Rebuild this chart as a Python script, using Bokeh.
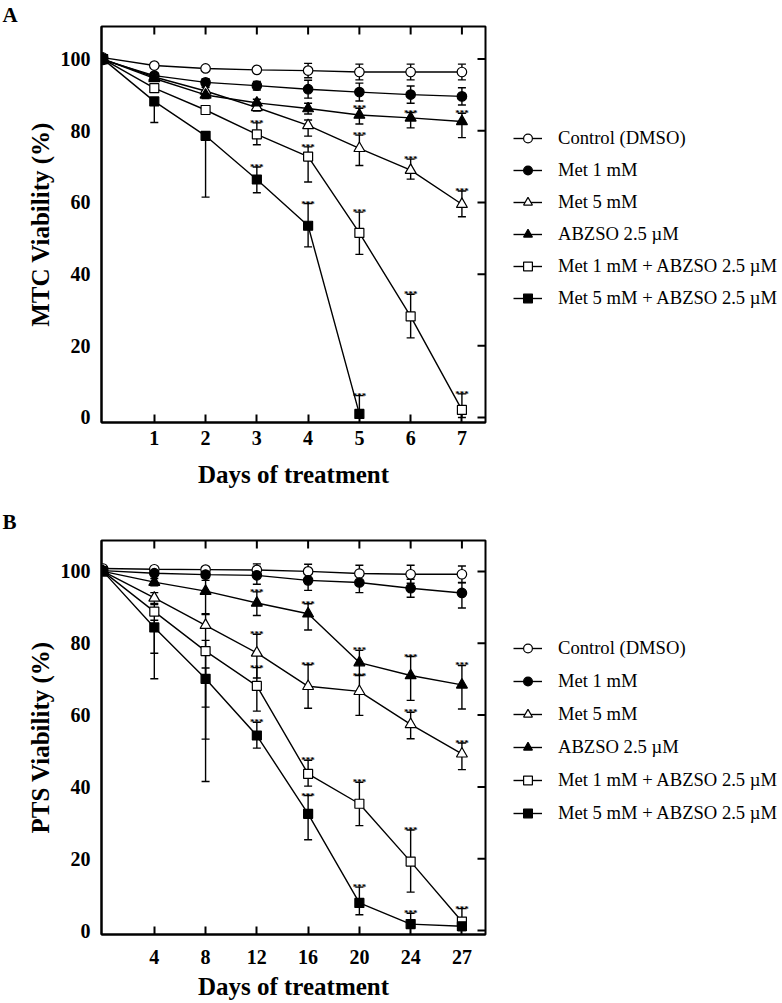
import math
from bokeh.plotting import figure
from bokeh.models import Range1d, FixedTicker, Legend, LegendItem, Title
from bokeh.layouts import column, row
from bokeh.embed import file_html
from bokeh.resources import INLINE
from bokeh.core.properties import value

SERIES = ["Control (DMSO)", "Met 1 mM", "Met 5 mM", "ABZSO 2.5 \u00b5M",
          "Met 1 mM + ABZSO 2.5 \u00b5M", "Met 5 mM + ABZSO 2.5 \u00b5M"]
MARKERS = ["circle", "circle", "triangle", "triangle", "square", "square"]
FILLS = ["white", "black", "white", "black", "white", "black"]
Y_TICKS = [0, 20, 40, 60, 80, 100]

# ---------------- Panel A : MTC, days 0..7 ----------------
a_days = [0, 1, 2, 3, 4, 5, 6, 7]
a_control = [100.4, 98.2, 97.4, 97.0, 96.8, 96.4, 96.4, 96.4]
a_control_hi = [0, 0.4, 0.4, 0.5, 2.0, 2.2, 2.2, 2.2]
a_control_lo = [0, 0.4, 0.4, 0.5, 2.0, 2.2, 2.2, 2.2]
a_control_sig = [0, 0, 0, 0, 0, 0, 0, 0]
a_met1 = [99.8, 95.4, 93.5, 92.6, 91.6, 90.8, 90.1, 89.6]
a_met1_hi = [0, 0.8, 1.0, 1.2, 2.5, 2.5, 2.4, 2.4]
a_met1_lo = [0, 0.8, 1.0, 1.2, 2.5, 2.5, 2.4, 2.4]
a_met1_sig = [0, 0, 0, 0, 0, 0, 0, 0]
a_met5 = [100, 95.0, 91.1, 86.5, 81.5, 75.1, 69.0, 59.5]
a_met5_hi = [0, 0.8, 1.0, 1.0, 1.5, 3.7, 3.1, 3.7]
a_met5_lo = [0, 0.8, 1.0, 1.0, 3.0, 4.8, 2.5, 3.5]
a_met5_sig = [0, 0, 0, 0, 0, 1, 1, 1]
a_abz = [100, 94.6, 90.0, 87.8, 86.2, 84.4, 83.6, 82.6]
a_abz_hi = [0, 0.8, 1.0, 1.0, 1.5, 1.9, 1.5, 2.3]
a_abz_lo = [0, 0.8, 1.0, 1.0, 1.5, 2.5, 2.8, 4.5]
a_abz_sig = [0, 0, 0, 0, 0, 1, 1, 1]
a_m1abz = [100, 91.9, 85.8, 79.0, 72.8, 51.5, 28.2, 2.1]
a_m1abz_hi = [0, 1.0, 1.0, 3.2, 2.7, 5.8, 6.2, 4.5]
a_m1abz_lo = [0, 1.0, 1.0, 2.9, 7.1, 6.0, 6.0, 2.1]
a_m1abz_sig = [0, 0, 0, 1, 1, 1, 1, 1]
a_m5abz = [100, 88.2, 78.6, 66.4, 53.5, 1.0]
a_m5abz_hi = [0, 0, 0, 3.5, 6.2, 5.1]
a_m5abz_lo = [0, 5.9, 17.1, 3.7, 5.9, 0]
a_m5abz_sig = [0, 0, 0, 1, 1, 1]

# ---------------- Panel B : PTS, days 0..27 ----------------
b_days = [0, 4, 8, 12, 16, 20, 24, 27]
b_control = [100.8, 100.6, 100.5, 100.4, 100.0, 99.4, 99.2, 99.2]
b_control_hi = [0, 0.5, 0.8, 1.7, 2.0, 2.3, 2.5, 2.3]
b_control_lo = [0, 0.5, 0.8, 1.7, 2.0, 2.3, 2.5, 2.3]
b_control_sig = [0, 0, 0, 0, 0, 0, 0, 0]
b_met1 = [100.2, 99.5, 99.1, 98.9, 97.5, 96.9, 95.3, 94.0]
b_met1_hi = [0, 0.5, 0.8, 2.5, 2.8, 2.8, 2.5, 2.8]
b_met1_lo = [0, 0.5, 0.8, 2.5, 2.8, 2.8, 2.5, 4.2]
b_met1_sig = [0, 0, 0, 0, 0, 0, 0, 0]
b_met5 = [100, 92.6, 85.0, 77.3, 68.0, 66.6, 57.4, 49.2]
b_met5_hi = [0, 1.5, 3.0, 5.2, 6.0, 4.4, 3.4, 3.0]
b_met5_lo = [0, 1.5, 22.8, 7.0, 6.1, 6.7, 4.0, 4.4]
b_met5_sig = [0, 0, 0, 1, 1, 1, 1, 1]
b_abz = [100, 97.0, 94.5, 91.2, 88.2, 74.6, 71.0, 68.4]
b_abz_hi = [0, 1.0, 3.0, 3.1, 2.8, 3.4, 5.3, 5.4]
b_abz_lo = [0, 1.0, 6.3, 3.5, 4.5, 3.5, 6.9, 6.7]
b_abz_sig = [0, 0, 0, 1, 1, 1, 1, 1]
b_m1abz = [100, 88.8, 77.8, 68.1, 43.6, 35.3, 19.2, 2.5]
b_m1abz_hi = [0, 2.0, 3.0, 5.1, 3.8, 6.0, 8.8, 3.6]
b_m1abz_lo = [0, 11.6, 24.5, 7.0, 3.4, 6.1, 8.5, 2.5]
b_m1abz_sig = [0, 0, 0, 1, 1, 1, 1, 1]
b_m5abz = [100, 84.4, 70.1, 54.3, 32.5, 7.7, 1.8, 1.2]
b_m5abz_hi = [0, 2.0, 3.0, 3.7, 5.1, 4.4, 3.0, 0]
b_m5abz_lo = [0, 14.3, 28.6, 3.5, 7.2, 3.3, 0, 0]
b_m5abz_sig = [0, 0, 0, 1, 1, 1, 1, 0]

FONT = value("Liberation Serif")
X_RANGE = (-0.03, 7.46)
MAIN_W = 493
LEG_W = 782 - MAIN_W


def marker_size(marker):
    return 9.5 if marker == "circle" else (11 if marker == "triangle" else 9)


def make_panel(letter, ylabel, days, series, y_range, height, border_top, border_bottom,
               title_standoff, tick_standoff, label_standoff):
    p = figure(width=MAIN_W, height=height, output_backend="svg", toolbar_location=None,
               x_range=Range1d(*X_RANGE), y_range=Range1d(*y_range),
               min_border_left=101, min_border_right=8,
               min_border_top=border_top, min_border_bottom=border_bottom)
    p.xgrid.visible = False
    p.ygrid.visible = False
    p.outline_line_color = "black"
    p.outline_line_width = 2
    p.background_fill_color = "white"
    p.border_fill_color = "white"

    title = Title(text=letter, align="left", offset=-99, standoff=title_standoff,
                  text_font="Liberation Serif", text_font_style="bold",
                  text_font_size="21px", text_color="black")
    p.add_layout(title, "above")

    positions = list(range(len(days)))
    xt = positions[1:]
    overrides = {i: str(d) for i, d in zip(positions, days)}

    xa = p.xaxis[0]
    xa.ticker = FixedTicker(ticks=xt)
    xa.major_label_overrides = overrides
    xa.axis_label = "Days of treatment"
    ya = p.yaxis[0]
    ya.ticker = FixedTicker(ticks=Y_TICKS)
    ya.axis_label = ylabel

    for ax in (xa, ya):
        ax.axis_line_color = "black"
        ax.axis_line_width = 2
        ax.major_tick_line_color = "black"
        ax.major_tick_line_width = 2
        ax.major_tick_in = 8
        ax.major_tick_out = 0
        ax.minor_tick_in = 0
        ax.minor_tick_out = 0
        ax.minor_tick_line_color = None
        ax.major_label_text_font = "Liberation Serif"
        ax.major_label_text_font_style = "bold"
        ax.major_label_text_color = "black"
        ax.major_label_text_font_size = "20px"
        ax.axis_label_text_font = "Liberation Serif"
        ax.axis_label_text_font_style = "bold"
        ax.axis_label_text_color = "black"
        ax.axis_label_text_font_size = "25px"
    ya.major_tick_in = 0
    xa.major_label_standoff = tick_standoff
    xa.axis_label_standoff = label_standoff
    ya.major_label_standoff = 11
    ya.axis_label_standoff = 4

    # inward ticks on the top and right edges of the frame (half of each dash is clipped)
    p.scatter(x=xt, y=[y_range[1]] * len(xt), marker="dash", size=16, angle=math.pi / 2,
              line_color="black", line_width=2)
    p.scatter(x=[X_RANGE[1]] * len(Y_TICKS), y=Y_TICKS, marker="dash", size=16,
              line_color="black", line_width=2)

    items = []
    for (name, ys, hi, lo, sig), marker, fill in zip(series, MARKERS, FILLS):
        xs = positions[:len(ys)]
        sx, sy0, sy1, cx, cy = [], [], [], [], []
        for x, y, h, l in zip(xs, ys, hi, lo):
            if h > 0:
                sx.append(x); sy0.append(y); sy1.append(y + h); cx.append(x); cy.append(y + h)
            if l > 0:
                sx.append(x); sy0.append(y); sy1.append(y - l); cx.append(x); cy.append(y - l)
        p.segment(x0=sx, y0=sy0, x1=sx, y1=sy1, line_color="black", line_width=1.4)
        p.scatter(x=cx, y=cy, marker="dash", size=8, line_color="black", line_width=1.4)
        ax_, ay_ = [], []
        for x, y, h, s in zip(xs, ys, hi, sig):
            if s:
                ax_.append(x); ay_.append(y + h)
        if ax_:
            p.text(x=ax_, y=ay_, text=["***"] * len(ax_), text_font=FONT,
                   text_font_style="bold", text_font_size="9px", text_align="center",
                   text_baseline="alphabetic", text_color="black")
        items.append((xs, ys, marker, fill))

    for xs, ys, marker, fill in items:
        p.line(x=xs, y=ys, line_color="black", line_width=1.4)
        p.scatter(x=xs, y=ys, marker=marker, size=marker_size(marker), fill_color=fill,
                  line_color="black", line_width=1.2)
    return p


def make_legend_fig(height, legend_y, spacing):
    # legend-only figure; its frame is aligned with the neighbouring plot's frame
    lf = figure(width=LEG_W, height=height, output_backend="svg", toolbar_location=None,
                x_range=Range1d(0, 1), y_range=Range1d(0, 1),
                min_border_left=0, min_border_right=0, min_border_top=0,
                min_border_bottom=0, x_axis_type=None, y_axis_type=None)
    lf.grid.visible = False
    lf.outline_line_color = None
    lf.background_fill_color = "white"
    lf.border_fill_color = "white"
    legend_items = []
    for name, marker, fill in zip(SERIES, MARKERS, FILLS):
        # one point outside the visible range so the legend glyph has its styles
        lr = lf.line(x=[-5, -4], y=[-5, -4], line_color="black", line_width=1.4)
        sr = lf.scatter(x=[-5], y=[-5], marker=marker, size=marker_size(marker),
                        fill_color=fill, line_color="black", line_width=1.2)
        legend_items.append(LegendItem(label=name, renderers=[lr, sr]))
    legend = Legend(items=legend_items, location=(20, legend_y), glyph_width=29,
                    glyph_height=22, label_height=22, spacing=spacing, label_standoff=16,
                    padding=0, margin=0, border_line_color=None, background_fill_alpha=0,
                    label_text_font="Liberation Serif", label_text_font_size="18.6px",
                    label_text_baseline="alphabetic", label_text_color="black")
    lf.add_layout(legend)
    return lf


series_a = [
    (SERIES[0], a_control, a_control_hi, a_control_lo, a_control_sig),
    (SERIES[1], a_met1, a_met1_hi, a_met1_lo, a_met1_sig),
    (SERIES[2], a_met5, a_met5_hi, a_met5_lo, a_met5_sig),
    (SERIES[3], a_abz, a_abz_hi, a_abz_lo, a_abz_sig),
    (SERIES[4], a_m1abz, a_m1abz_hi, a_m1abz_lo, a_m1abz_sig),
    (SERIES[5], a_m5abz, a_m5abz_hi, a_m5abz_lo, a_m5abz_sig),
]
series_b = [
    (SERIES[0], b_control, b_control_hi, b_control_lo, b_control_sig),
    (SERIES[1], b_met1, b_met1_hi, b_met1_lo, b_met1_sig),
    (SERIES[2], b_met5, b_met5_hi, b_met5_lo, b_met5_sig),
    (SERIES[3], b_abz, b_abz_hi, b_abz_lo, b_abz_sig),
    (SERIES[4], b_m1abz, b_m1abz_hi, b_m1abz_lo, b_m1abz_sig),
    (SERIES[5], b_m5abz, b_m5abz_hi, b_m5abz_lo, b_m5abz_sig),
]

pa = make_panel("A", "MTC Viability (%)", a_days, series_a, (-1.4, 109.1), 500, 25, 78,
                0, 8, 13)
pb = make_panel("B", "PTS Viability (%)", b_days, series_b, (-1.1, 108.6), 502, 40, 68,
                14, 15, 6)
la = make_legend_fig(500, 113, 10)
lb = make_legend_fig(502, 110, 11)

layout = column(row(pa, la, spacing=0), row(pb, lb, spacing=0), spacing=0)
open("out.html", "w").write(file_html(layout, INLINE))
